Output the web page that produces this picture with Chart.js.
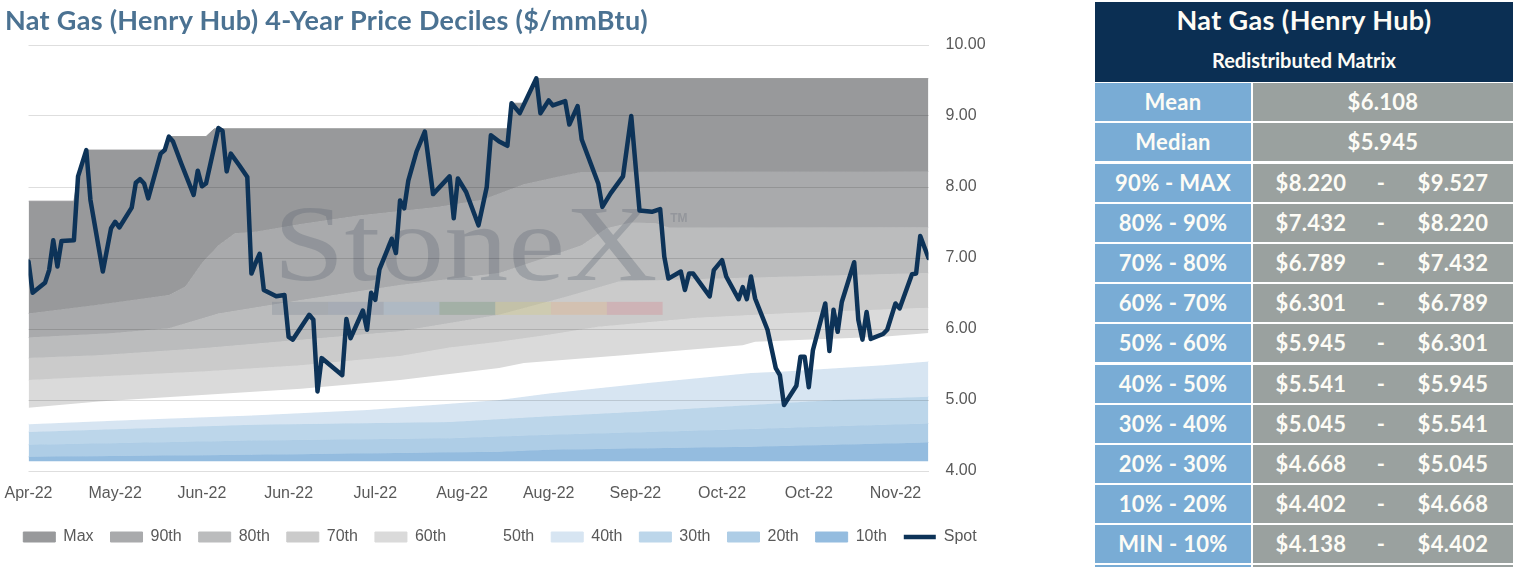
<!DOCTYPE html>
<html lang="en">
<head>
<meta charset="utf-8">
<title>Nat Gas (Henry Hub) 4-Year Price Deciles</title>
<script src="https://cdn.jsdelivr.net/npm/chart.js@4.4.1/dist/chart.umd.min.js"></script>
<style>
  html, body { margin: 0; padding: 0; background: #fff; }
  body { position: relative; width: 1516px; height: 567px; overflow: hidden; }
  #title { position: absolute; left: 5px; top: 5px; font: 700 27px/30px Lato, sans-serif; letter-spacing: 0.3px; color: #4b7292; white-space: nowrap; z-index: 2; }
  #chartBox { position: absolute; left: 0; top: 0; width: 1000px; height: 567px; }
  #matrix { position: absolute; left: 1095px; top: 2px; width: 418px; font-family: Lato, sans-serif; font-weight: 700; color: #fdfcf6; }
  #matrix .head { height: 80px; background: #0b2f53; text-align: center; }
  #matrix .h1 { font-size: 27px; line-height: 30px; padding-top: 3px; letter-spacing: 0.4px; }
  #matrix .h2 { font-size: 20px; line-height: 24px; margin-top: 13px; }
  #matrix .row { display: flex; height: 38px; margin-top: 2px; font-size: 22px; line-height: 38px; text-align: center; letter-spacing: 0.3px; }
  #matrix .row.first { margin-top: 1px; }
  #matrix .row.gap { margin-top: 3px; }
  #matrix .name { width: 156px; background: #79acd5; }
  #matrix .val { width: 260px; margin-left: 2px; background: #9aa19f; display: grid; grid-template-columns: 116px 24px 120px; }
  #matrix .val.single { display: block; }
</style>
</head>
<body>
<div id="title">Nat Gas (Henry Hub) 4-Year Price Deciles ($/mmBtu)</div>
<div id="chartBox"><canvas id="chart"></canvas></div>
<div id="matrix">
  <div class="head">
    <div class="h1">Nat Gas (Henry Hub)</div>
    <div class="h2">Redistributed Matrix</div>
  </div>
  <div id="rows"></div>
</div>
<script>
// x axis is calendar days counted from 21 Apr 2022, a label every 3 weeks
const tickDays = [0, 21, 42, 63, 84, 105, 126, 147, 168, 189, 210];
const tickLabels = ["Apr-22", "May-22", "Jun-22", "Jun-22", "Jul-22", "Aug-22", "Aug-22", "Sep-22", "Oct-22", "Oct-22", "Nov-22"];
const yTicks = [4, 5, 6, 7, 8, 9, 10];

// spot price, trading days only
const spotDays = [0, 1, 4, 5, 6, 7, 8, 11, 12, 14, 15, 18, 20, 21, 22, 25, 26, 27, 28, 29,
  32, 33, 34, 35, 37, 40, 41, 42, 43, 46, 47, 48, 49, 51, 53, 54, 55, 56, 57, 60,
  62, 63, 64, 68, 69, 70, 71, 76, 77, 78, 81, 82, 83, 84, 85, 88, 89, 90, 91, 92,
  94, 96, 98, 102, 103, 104, 106, 109, 111, 112, 114, 116, 117, 119, 123, 124, 126, 127, 130, 131,
  133, 134, 138, 139, 141, 144, 146, 148, 151, 153, 154, 155, 158, 159, 160, 161, 165, 166, 168, 169,
  172, 173, 174, 175, 176, 179, 181, 182, 183, 186, 187, 188, 189, 190, 193, 194, 195, 196, 197, 200,
  201, 202, 203, 204, 207, 208, 210, 211, 214, 215, 216, 218];
const spotValues = [6.95, 6.51, 6.65, 6.83, 7.25, 6.88, 7.24, 7.25, 8.15, 8.52, 7.82, 6.81, 7.42, 7.51, 7.43, 7.71, 8.06, 8.11, 8.05, 7.84,
  8.47, 8.52, 8.71, 8.64, 8.33, 7.89, 8.23, 8.01, 8.05, 8.83, 8.79, 8.22, 8.47, 8.31, 8.14, 6.78, 6.93, 7.06, 6.55, 6.46,
  6.48, 5.89, 5.85, 6.20, 6.13, 5.12, 5.59, 5.35, 6.14, 5.87, 6.26, 5.99, 6.51, 6.41, 6.84, 7.27, 7.07, 7.81, 7.70, 8.09,
  8.50, 8.78, 7.90, 8.15, 7.56, 8.12, 7.93, 7.46, 8.00, 8.73, 8.64, 8.58, 9.18, 9.04, 9.53, 9.04, 9.22, 9.15, 9.21, 8.88,
  9.14, 8.67, 8.05, 7.72, 7.91, 8.15, 9.00, 7.67, 7.65, 7.69, 7.02, 6.71, 6.81, 6.55, 6.78, 6.78, 6.46, 6.83, 6.97, 6.74,
  6.42, 6.59, 6.42, 6.74, 6.43, 5.99, 5.45, 5.35, 4.93, 5.20, 5.61, 5.61, 5.18, 5.70, 6.36, 5.69, 6.27, 5.96, 6.38, 6.94,
  6.13, 5.85, 6.24, 5.86, 5.93, 5.99, 6.36, 6.29, 6.77, 6.78, 7.31, 7.00];

// 4-year decile lines
const maxDays = [0, 11, 12, 14, 33, 34, 43, 45, 116, 117, 120, 123, 218];
const maxValues = [7.80, 7.80, 8.15, 8.52, 8.52, 8.71, 8.71, 8.82, 8.82, 9.18, 9.18, 9.527, 9.527];
const p90Days = [0, 17, 34, 38, 42, 46, 50, 55, 66, 80, 99, 110, 120, 128, 134, 218];
const p90 = [6.22, 6.34, 6.48, 6.60, 6.93, 7.18, 7.35, 7.37, 7.48, 7.60, 7.72, 7.82, 8.04, 8.14, 8.21, 8.22];
const p80Days = [0, 20, 34, 46, 66, 90, 114, 125, 134, 140, 146, 152, 155, 218];
const p80 = [5.88, 5.94, 6.01, 6.22, 6.41, 6.62, 6.79, 7.00, 7.18, 7.42, 7.50, 7.49, 7.43, 7.432];
const p70Days = [0, 17, 42, 66, 90, 114, 130, 143, 167, 218];
const p70 = [5.59, 5.63, 5.73, 5.85, 5.97, 6.20, 6.45, 6.67, 6.71, 6.789];
const p60Days = [0, 17, 42, 66, 90, 102, 114, 126, 138, 162, 186, 218];
const p60 = [5.28, 5.33, 5.40, 5.49, 5.62, 5.74, 5.82, 5.92, 6.03, 6.16, 6.23, 6.301];
const p50Days = [0, 17, 42, 66, 90, 114, 120, 144, 173, 176, 188, 207, 218];
const p50 = [4.89, 4.98, 5.07, 5.16, 5.28, 5.45, 5.52, 5.63, 5.77, 5.82, 5.85, 5.89, 5.945];
const p40Days = [0, 25, 54, 82, 114, 126, 150, 175, 183, 207, 218];
const p40 = [4.66, 4.72, 4.78, 4.86, 5.00, 5.09, 5.24, 5.38, 5.40, 5.49, 5.541];
const p30Days = [0, 54, 102, 126, 150, 175, 195, 218];
const p30 = [4.55, 4.65, 4.69, 4.77, 4.84, 4.93, 5.00, 5.045];
const p20Days = [0, 54, 102, 126, 150, 175, 195, 218];
const p20 = [4.37, 4.43, 4.46, 4.51, 4.55, 4.59, 4.63, 4.668];
const p10Days = [0, 54, 114, 126, 150, 175, 195, 218];
const p10 = [4.20, 4.23, 4.27, 4.30, 4.32, 4.34, 4.37, 4.402];
const minDays = [0, 218];
const minValues = [4.138, 4.138];

const bandNames = ["Max", "90th", "80th", "70th", "60th", "50th", "40th", "30th", "20th", "10th"];
const bandColours = ["#98999b", "#a9aaac", "#bbbcbd", "#cbcbcb", "#dadada", "#ffffff", "#d7e5f2", "#bcd6ea", "#aecde6", "#94bcdf"];
const bandDays = [maxDays, p90Days, p80Days, p70Days, p60Days, p50Days, p40Days, p30Days, p20Days, p10Days];
const bandValues = [maxValues, p90, p80, p70, p60, p50, p40, p30, p20, p10];

// matrix table
const statLabels = ["Mean", "Median"];
const statValues = [6.108, 5.945];
const rangeLabels = ["90% - MAX", "80% - 90%", "70% - 80%", "60% - 70%", "50% - 60%", "40% - 50%", "30% - 40%", "20% - 30%", "10% - 20%", "MIN - 10%"];
const rangeLow = [8.220, 7.432, 6.789, 6.301, 5.945, 5.541, 5.045, 4.668, 4.402, 4.138];
const rangeHigh = [9.527, 8.220, 7.432, 6.789, 6.301, 5.945, 5.541, 5.045, 4.668, 4.402];

const markColours = ["rgba(80,95,115,0.18)", "rgba(95,120,155,0.22)", "rgba(150,180,210,0.3)", "rgba(90,140,100,0.25)",
  "rgba(215,205,120,0.3)", "rgba(230,175,125,0.32)", "rgba(215,125,135,0.3)"];

function pts(days, vals) {
  return days.map((d, i) => ({ x: d, y: vals[i] }));
}

const money = v => "$" + v.toFixed(3);

// build the table
const rows = document.getElementById("rows");
statLabels.forEach((l, i) => {
  rows.innerHTML += `<div class="row${i === 0 ? " first" : ""}"><div class="name">${l}</div><div class="val single">${money(statValues[i])}</div></div>`;
});
rangeLabels.forEach((l, i) => {
  const cls = (i === 0 || i === 5) ? " gap" : "";
  rows.innerHTML += `<div class="row${cls}"><div class="name">${l}</div><div class="val"><span>${money(rangeLow[i])}</span><span>-</span><span>${money(rangeHigh[i])}</span></div></div>`;
});
rows.innerHTML += `<div class="row"><div class="name"></div><div class="val single"></div></div>`;

const datasets = bandNames.map((name, i) => ({
  label: name,
  data: pts(bandDays[i], bandValues[i]),
  fill: "+1",
  backgroundColor: bandColours[i],
  borderColor: bandColours[i],
  borderWidth: 1,
  pointRadius: 0,
  pointStyle: "rect",
  order: 1
}));
datasets.push({
  label: "Min",
  data: pts(minDays, minValues),
  fill: false,
  borderWidth: 0,
  borderColor: "rgba(0,0,0,0)",
  pointRadius: 0,
  order: 1
});
datasets.push({
  label: "Spot",
  data: pts(spotDays, spotValues),
  fill: false,
  borderColor: "#0d3358",
  backgroundColor: "#0d3358",
  borderWidth: 4.5,
  pointBorderWidth: 4.5,
  borderCapStyle: "round",
  borderJoinStyle: "round",
  pointRadius: 0,
  pointStyle: "line",
  order: 0
});
const spotIndex = datasets.length - 1;

// faint StoneX logo behind the spot line
const watermark = {
  id: "watermark",
  beforeDatasetDraw(chart, args) {
    if (args.index !== spotIndex) return;
    const { ctx, chartArea: a } = chart;
    const w = a.right - a.left;
    const h = a.bottom - a.top;
    const barX = a.left + 0.2706 * w;
    const barW = 0.434 * w;
    ctx.save();
    ctx.textBaseline = "alphabetic";
    ctx.textAlign = "left";
    markColours.forEach((c, i) => {
      ctx.fillStyle = c;
      ctx.fillRect(barX + i * barW / 7, a.top + 0.603 * h, barW / 7, 0.0305 * h);
    });
    ctx.font = '107px "Liberation Serif", "DejaVu Serif", serif';
    const tw = ctx.measureText("StoneX").width;
    ctx.translate(a.left + 0.272 * w, a.top + 0.552 * h);
    ctx.scale(0.427 * w / tw, 1);
    ctx.fillStyle = "rgba(90,98,112,0.3)";
    ctx.fillText("StoneX", 0, 0);
    ctx.restore();
    ctx.save();
    ctx.textBaseline = "alphabetic";
    ctx.textAlign = "left";
    ctx.font = 'bold 12px "Liberation Sans", Arial, sans-serif';
    ctx.fillStyle = "rgba(110,116,126,0.35)";
    ctx.fillText("TM", a.left + 0.713 * w, a.top + 0.4155 * h);
    ctx.restore();
  }
};

const axisFont = { family: '"Liberation Sans", Arial, sans-serif', size: 16 };

new Chart(document.getElementById("chart"), {
  type: "line",
  data: { datasets },
  options: {
    responsive: true,
    maintainAspectRatio: false,
    animation: false,
    layout: { padding: { left: 0, right: 0, top: 45, bottom: 12 } },
    plugins: {
      legend: {
        position: "bottom",
        labels: {
          usePointStyle: true,
          pointStyleWidth: 32,
          boxHeight: 10,
          padding: 17,
          color: "#595959",
          font: axisFont,
          filter: item => item.text !== "Min",
          sort: (a, b) => a.datasetIndex - b.datasetIndex
        }
      },
      tooltip: { enabled: false }
    },
    scales: {
      x: {
        type: "linear",
        min: 0,
        max: 218,
        grid: { display: false, drawTicks: false },
        border: { display: false },
        afterBuildTicks: axis => { axis.ticks = tickDays.map(v => ({ value: v })); },
        afterFit: axis => { axis.height = 41; axis.paddingLeft = 0; axis.paddingRight = 0; },
        ticks: {
          autoSkip: false,
          maxRotation: 0,
          padding: 13,
          color: "#595959",
          font: axisFont,
          callback: v => tickLabels[tickDays.indexOf(v)] || ""
        }
      },
      // empty left axis, only keeps the plot's left margin
      yl: {
        type: "linear",
        position: "left",
        min: 4,
        max: 10,
        grid: { display: false, drawTicks: false },
        border: { display: false },
        ticks: { display: false },
        afterFit: axis => { axis.width = 28.5; }
      },
      y: {
        type: "linear",
        position: "right",
        min: 4,
        max: 10,
        afterBuildTicks: axis => { axis.ticks = yTicks.map(v => ({ value: v })); },
        afterFit: axis => { axis.width = 71.5; },
        grid: { color: "rgba(0,0,0,0.13)", drawTicks: false, z: 1 },
        border: { display: false },
        ticks: {
          padding: 17,
          color: "#595959",
          font: axisFont,
          callback: v => v.toFixed(2)
        }
      }
    }
  },
  plugins: [watermark]
});
</script>
</body>
</html>
